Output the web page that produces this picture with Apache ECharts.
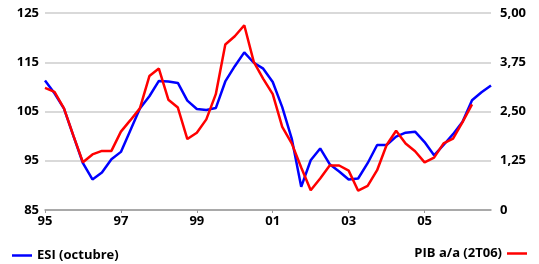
<!DOCTYPE html>
<html>
<head>
<meta charset="utf-8">
<script src="https://cdn.jsdelivr.net/npm/echarts@6/dist/echarts.min.js"></script>
<style>
  html, body { margin: 0; padding: 0; background: #fff; }
  #chart { width: 539px; height: 264px; }
</style>
</head>
<body>
<div id="chart"></div>
<script>
// trimestres 1995T1 .. 2006T4
const years = ['95', '96', '97', '98', '99', '00', '01', '02', '03', '04', '05', '06']
const quarters = []
years.forEach(y => { for (let q = 1; q <= 4; q++) quarters.push(y + 'T' + q) })

// ESI (octubre), escala izquierda
const esi = [
  111.3, 108.7, 105.6, 100.0, 94.5, 91.2, 92.6, 95.3,
  96.8, 101.2, 105.6, 108.1, 111.2, 111.1, 110.8, 107.2,
  105.5, 105.3, 105.7, 111.1, 114.2, 117.0, 114.9, 113.7,
  111.0, 105.9, 99.5, 89.7, 95.1, 97.5, 94.3, 92.8,
  91.2, 91.4, 94.5, 98.2, 98.2, 99.9, 100.7, 100.9,
  98.8, 96.1, 98.2, 100.4, 102.9, 107.3, 108.9, 110.3
]

// PIB a/a (2T06), escala derecha
const pib = [
  3.10, 3.00, 2.58, 1.88, 1.21, 1.41, 1.50, 1.50,
  1.99, 2.28, 2.58, 3.40, 3.59, 2.80, 2.60, 1.80,
  1.96, 2.30, 2.94, 4.20, 4.41, 4.69, 3.76, 3.33,
  2.94, 2.11, 1.69, 1.08, 0.50, 0.80, 1.13, 1.13,
  1.00, 0.49, 0.61, 1.01, 1.65, 2.01, 1.69, 1.49,
  1.21, 1.33, 1.69, 1.81, 2.23, 2.68
]

const font = { fontFamily: 'Open Sans', fontWeight: 'bold', fontSize: 13, color: '#000' }

const chart = echarts.init(document.getElementById('chart'))

chart.setOption({
  animation: false,
  grid: { left: 45, right: 48, top: 13, bottom: 54 },
  legend: [
    {
      data: ['ESI (octubre)'],
      left: 12, top: 249, padding: 0,
      icon: 'rect', itemWidth: 20, itemHeight: 2.5, itemGap: 5,
      textStyle: font
    },
    {
      data: ['PIB a/a (2T06)'],
      right: 12, top: 247, padding: 0, align: 'right',
      icon: 'rect', itemWidth: 20, itemHeight: 2.5, itemGap: 5,
      textStyle: font
    }
  ],
  xAxis: {
    type: 'category',
    data: quarters,
    boundaryGap: false,
    axisLine: { lineStyle: { color: '#999', width: 1.5 } },
    axisTick: { interval: 7, length: 3, lineStyle: { color: '#999' } },
    axisLabel: {
      ...font,
      interval: 7,
      margin: 5,
      formatter: v => v.slice(0, 2)
    },
    splitLine: { show: false }
  },
  yAxis: [
    {
      type: 'value', min: 85, max: 125, interval: 10,
      axisLine: { show: false },
      axisTick: { show: false },
      axisLabel: { ...font, margin: 6 },
      splitLine: { lineStyle: { color: '#ccc', width: 1.5 } }
    },
    {
      type: 'value', min: 0, max: 5, interval: 1.25,
      axisLine: { show: false },
      axisTick: { show: false },
      axisLabel: {
        ...font, margin: 9,
        formatter: v => v === 0 ? '0' : v.toFixed(2).replace('.', ',')
      },
      splitLine: { show: false }
    }
  ],
  series: [
    {
      name: 'ESI (octubre)', type: 'line', yAxisIndex: 0,
      data: esi, symbol: 'none',
      lineStyle: { color: '#0000ff', width: 2.5 },
      itemStyle: { color: '#0000ff' }
    },
    {
      name: 'PIB a/a (2T06)', type: 'line', yAxisIndex: 1,
      data: pib, symbol: 'none',
      lineStyle: { color: '#ff0000', width: 2.5 },
      itemStyle: { color: '#ff0000' }
    }
  ]
})
</script>
</body>
</html>
